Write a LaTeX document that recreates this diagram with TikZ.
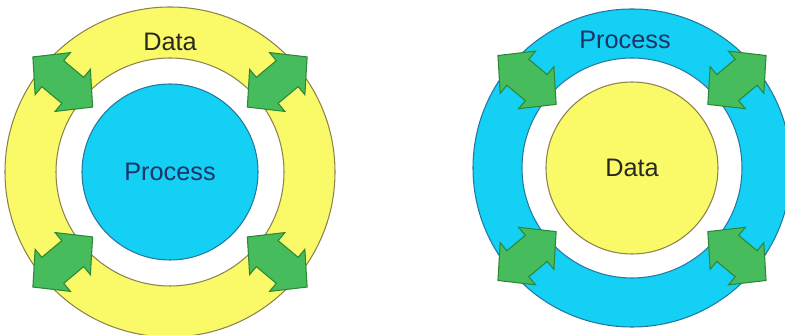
\documentclass[tikz,border=0pt]{standalone}
\usepackage{fontspec}
\setmainfont{Liberation Sans}
\usetikzlibrary{
	positioning,
	calc
}
\definecolor{RingYellow}{RGB}{250,250,105}
\definecolor{RingYellowEdge}{RGB}{140,130,75}
\definecolor{RingCyan}{RGB}{20,208,245}
\definecolor{RingCyanEdge}{RGB}{35,120,160}
\definecolor{ArrowGreen}{RGB}{70,188,92}
\definecolor{ArrowGreenEdge}{RGB}{45,135,55}
\definecolor{ProcessText}{RGB}{30,50,100}
\definecolor{DataText}{RGB}{40,40,30}

\tikzset{
	dblarrow/.style={
		fill=ArrowGreen,
		draw=ArrowGreenEdge,
		line width=.6pt,
		line join=miter
	}
}

\begin{document}
\begin{tikzpicture}[font=\fontsize{14.4}{16}\selectfont]
				
				\useasboundingbox (0,0) rectangle (15.7,6.7);
				
				% left: data around process
				\node[
				circle,
				fill=RingYellow,
				draw=RingYellowEdge,
				line width=.6pt,
				inner sep=0pt,
				minimum size=6.6cm
				]
				(DL) at (3.40,3.26)
				{};
				
				\node[
				circle,
				fill=white,
				draw=RingYellowEdge,
				line width=.6pt,
				inner sep=0pt,
				minimum size=4.56cm
				]
				(GL) at (DL.center)
				{};
				
				\node[
				circle,
				fill=RingCyan,
				draw=RingCyanEdge,
				line width=.6pt,
				inner sep=0pt,
				minimum size=3.52cm,
				text=ProcessText
				]
				(PL) at (DL.center)
				{Process};
				
				\node[
				text=DataText
				]
				(DLT) at ($(DL.center)+(0,2.6)$)
				{Data};
				
				\foreach \a in {40,140,220,320} {
					\begin{scope}[shift={(DL.center)}, rotate=\a]
						\draw[dblarrow]
						(2.02,0) -- (2.54,.55) -- (2.54,.34) -- (3.06,.34) -- (3.06,.55)
						-- (3.58,0) -- (3.06,-.55) -- (3.06,-.34) -- (2.54,-.34)
						-- (2.54,-.55) -- cycle;
					\end{scope}
				}
				
				% right: process around data
				\node[
				circle,
				fill=RingCyan,
				draw=RingCyanEdge,
				line width=.6pt,
				inner sep=0pt,
				minimum size=6.36cm
				]
				(PR) at (12.64,3.34)
				{};
				
				\node[
				circle,
				fill=white,
				draw=RingCyanEdge,
				line width=.6pt,
				inner sep=0pt,
				minimum size=4.4cm
				]
				(GR) at (PR.center)
				{};
				
				\node[
				circle,
				fill=RingYellow,
				draw=RingYellowEdge,
				line width=.6pt,
				inner sep=0pt,
				minimum size=3.44cm,
				text=DataText
				]
				(DR) at (PR.center)
				{Data};
				
				\node[
				text=ProcessText
				]
				(PRT) at ($(PR.center)+(-.14,2.56)$)
				{Process};
				
				\foreach \a in {40,140,220,320} {
					\begin{scope}[shift={(PR.center)}, rotate=\a]
						\draw[dblarrow]
						(1.98,0) -- (2.5,.55) -- (2.5,.34) -- (2.98,.34) -- (2.98,.55)
						-- (3.5,0) -- (2.98,-.55) -- (2.98,-.34) -- (2.5,-.34)
						-- (2.5,-.55) -- cycle;
					\end{scope}
				}
				
			\end{tikzpicture}
\end{document}
